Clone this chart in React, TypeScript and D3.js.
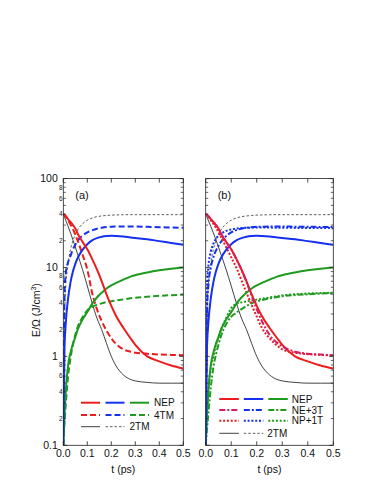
import React from 'react';
import * as d3 from 'd3';

// ---------- data ----------
const T = [0, 0.005, 0.01, 0.02, 0.03, 0.04, 0.05, 0.06, 0.08, 0.1, 0.12, 0.14, 0.16, 0.18, 0.2, 0.22, 0.25, 0.28, 0.3, 0.35, 0.4, 0.45, 0.5];

// NEP
const nepRed = [40, 39, 38, 35, 32.5, 30, 27.5, 24, 19.5, 16, 12.5, 9.5, 7.0, 5.0, 3.7, 2.85, 2.1, 1.6, 1.35, 1.0, 0.88, 0.79, 0.73];
const nepBlue = [0.1, 1.2, 2.3, 4.5, 6.8, 9, 11, 12.8, 15.8, 18.3, 20.2, 21.4, 22.2, 22.6, 22.7, 22.6, 22.3, 21.8, 21.5, 20.8, 19.8, 18.9, 18];
const nepGreen = [0.1, 0.22, 0.4, 0.8, 1.1, 1.38, 1.65, 2.0, 2.6, 3.15, 3.9, 4.6, 5.2, 5.8, 6.3, 6.7, 7.3, 7.9, 8.2, 8.8, 9.3, 9.7, 10];
// 4TM
const tm4Red = [40, 39, 37.5, 34, 30.5, 27, 23.5, 20, 14, 9.5, 5.2, 3.4, 2.5, 1.95, 1.6, 1.38, 1.2, 1.13, 1.1, 1.07, 1.05, 1.04, 1.03];
const tm4Blue = [0.1, 5, 8.5, 11.5, 13.5, 16, 18, 20, 22.8, 24.8, 26.2, 27.3, 28, 28.5, 28.8, 28.9, 29, 29, 28.9, 28.7, 28.4, 28.2, 28];
const tm4Green = [0.1, 0.18, 0.28, 0.6, 0.95, 1.35, 1.75, 2.15, 2.75, 3.3, 3.6, 3.8, 3.95, 4.08, 4.17, 4.25, 4.38, 4.5, 4.57, 4.7, 4.8, 4.88, 4.95];
// 2TM
const tm2Elec = [40, 37, 34, 29, 24.5, 20.5, 17, 14, 9.5, 6.2, 4.0, 2.7, 2.0, 1.4, 1.0, 0.78, 0.62, 0.55, 0.53, 0.51, 0.5, 0.5, 0.5];
const tm2Latt = [0.1, 3, 6, 11, 16, 20, 23.5, 26.5, 31, 34, 36, 37.3, 38, 38.5, 38.8, 39, 39.2, 39.3, 39.3, 39.3, 39.3, 39.3, 39.3];
// NE+3T
const ne3Red = [40, 39, 38, 35, 32.5, 30, 27.5, 24, 19.5, 16, 12.5, 9.5, 6.8, 4.8, 3.4, 2.5, 1.75, 1.42, 1.3, 1.13, 1.07, 1.05, 1.03];
const ne3Blue = [0.1, 3, 6, 10, 13, 15.5, 17.5, 19.5, 22.5, 24.8, 26.3, 27.3, 28, 28.4, 28.7, 28.8, 28.9, 28.9, 28.9, 28.8, 28.7, 28.6, 28.5];
const ne3Green = [0.1, 0.15, 0.22, 0.45, 0.75, 1.05, 1.35, 1.7, 2.3, 2.8, 3.1, 3.4, 3.7, 3.95, 4.15, 4.3, 4.5, 4.65, 4.75, 4.9, 5.0, 5.1, 5.15];
// NP+1T
const np1Red = [40, 39, 37.5, 34, 31, 28, 25, 22, 17, 13, 10, 7.2, 5.2, 3.8, 2.8, 2.1, 1.6, 1.32, 1.2, 1.1, 1.06, 1.04, 1.02];
const np1Blue = [0.1, 6, 10, 15, 18.5, 21, 22.8, 24, 25.8, 26.8, 27.4, 27.8, 28, 28.1, 28.1, 28.1, 28.1, 28, 28, 27.9, 27.8, 27.8, 27.7];
const np1Green = [0.1, 0.25, 0.4, 0.75, 1.0, 1.35, 1.65, 2.0, 2.7, 3.5, 3.9, 4.05, 4.15, 4.25, 4.35, 4.45, 4.6, 4.75, 4.85, 5.0, 5.1, 5.15, 5.2];

const X_TICKS = [0, 0.1, 0.2, 0.3, 0.4, 0.5];
const X_TICK_LABELS = ['0.0', '0.1', '0.2', '0.3', '0.4', '0.5'];
const Y_MAJOR = [0.1, 1, 10, 100];
const Y_MAJOR_LABELS = ['0.1', '1', '10', '100'];
const MINOR_LABELED = [2, 4, 6, 8];

// ---------- styles ----------
const RED = '#ee1c1c';
const PINK = '#d81b60';
const BLUE = '#1530ee';
const GREEN = '#1e9a1e';
const FONT = '"Liberation Sans", Arial, Helvetica, sans-serif';

const DASH = '6,3';
const DOT = '2,1.8';
const DASHDOT = '6,2,2,2';
const THIN_DASH = '2.5,2';

type Style = { color: string; dash?: string; width: number };
type Series = { values: number[] } & Style;

const sNEPr: Style = { color: RED, width: 2 };
const sNEPb: Style = { color: BLUE, width: 2 };
const sNEPg: Style = { color: GREEN, width: 2 };
const s4r: Style = { color: RED, width: 2, dash: DASH };
const s4b: Style = { color: BLUE, width: 2, dash: DASH };
const s4g: Style = { color: GREEN, width: 2, dash: DASH };
const s2e: Style = { color: '#111', width: 0.8 };
const s2l: Style = { color: '#333', width: 0.8, dash: THIN_DASH };
const s3r: Style = { color: PINK, width: 2, dash: DASHDOT };
const s3b: Style = { color: BLUE, width: 2, dash: DASHDOT };
const s3g: Style = { color: GREEN, width: 2, dash: DASHDOT };
const s1r: Style = { color: RED, width: 2, dash: DOT };
const s1b: Style = { color: BLUE, width: 2, dash: DOT };
const s1g: Style = { color: GREEN, width: 2, dash: DOT };

const seriesA: Series[] = [
  { values: tm2Latt, ...s2l },
  { values: tm2Elec, ...s2e },
  { values: tm4Green, ...s4g },
  { values: tm4Blue, ...s4b },
  { values: tm4Red, ...s4r },
  { values: nepGreen, ...sNEPg },
  { values: nepBlue, ...sNEPb },
  { values: nepRed, ...sNEPr },
];
const seriesB: Series[] = [
  { values: tm2Latt, ...s2l },
  { values: tm2Elec, ...s2e },
  { values: ne3Green, ...s3g },
  { values: np1Green, ...s1g },
  { values: ne3Blue, ...s3b },
  { values: np1Blue, ...s1b },
  { values: np1Red, ...s1r },
  { values: nepGreen, ...sNEPg },
  { values: nepBlue, ...sNEPb },
  { values: nepRed, ...sNEPr },
  { values: ne3Red, ...s3r },
];

type LegendRow = { y: number; segs: Style[]; text: string };
type Legend = { x0: number; segLen: number; gap: number; textGap: number; rows: LegendRow[] };

const legendA: Legend = {
  x0: 81, segLen: 19, gap: 5.5, textGap: 5,
  rows: [
    { y: 402.7, segs: [sNEPr, sNEPb, sNEPg], text: 'NEP' },
    { y: 415, segs: [s4r, s4b, s4g], text: '4TM' },
    { y: 426.7, segs: [s2e, s2l], text: '2TM' },
  ],
};
const legendB: Legend = {
  x0: 219.3, segLen: 19.5, gap: 5, textGap: 4,
  rows: [
    { y: 399, segs: [sNEPr, sNEPb, sNEPg], text: 'NEP' },
    { y: 410, segs: [s3r, s3b, s3g], text: 'NE+3T' },
    { y: 420.7, segs: [s1r, s1b, s1g], text: 'NP+1T' },
    { y: 433.3, segs: [s2e, s2l], text: '2TM' },
  ],
};

type PanelProps = {
  id: string; left: number; right: number; top: number; bottom: number;
  series: Series[]; label: string; yLabels: boolean; legend: Legend;
};

function Panel({ id, left, right, top, bottom, series, label, yLabels, legend }: PanelProps) {
  const x = d3.scaleLinear().domain([0, 0.5]).range([left, right]);
  const y = d3.scaleLog().domain([0.1, 100]).range([bottom, top]);
  const line = d3.line<number>()
    .x((_, i) => x(T[i]))
    .y((v) => y(v))
    .curve(d3.curveMonotoneX);

  const minors: number[] = [];
  [0.1, 1, 10].forEach((d) => { for (let k = 2; k <= 9; k++) minors.push(d * k); });

  const major = 4;
  const minor = 2.5;
  const axisColor = '#222';

  return (
    <g>
      <defs>
        <clipPath id={`clip-${id}`}>
          <rect x={left} y={top} width={right - left} height={bottom - top} />
        </clipPath>
      </defs>
      <g clipPath={`url(#clip-${id})`} fill="none">
        {series.map((s, i) => (
          <path key={i} d={line(s.values) || ''} stroke={s.color} strokeWidth={s.width}
            strokeDasharray={s.dash} strokeLinejoin="round" />
        ))}
      </g>
      {/* frame */}
      <rect x={left} y={top} width={right - left} height={bottom - top} fill="none" stroke={axisColor} strokeWidth={0.8} />
      {/* x ticks */}
      {X_TICKS.map((t, i) => (
        <g key={'xt' + i}>
          <line x1={x(t)} x2={x(t)} y1={bottom} y2={bottom - major} stroke={axisColor} strokeWidth={0.8} />
          <line x1={x(t)} x2={x(t)} y1={top} y2={top + major} stroke={axisColor} strokeWidth={0.8} />
          <text x={x(t)} y={bottom + 11.8} fontSize={10.5} textAnchor="middle" fontFamily={FONT} fill="#111">{X_TICK_LABELS[i]}</text>
        </g>
      ))}
      <text x={(left + right) / 2} y={bottom + 28} fontSize={10.5} textAnchor="middle" fontFamily={FONT} fill="#111">t (ps)</text>
      {/* y ticks */}
      {Y_MAJOR.map((v, i) => (
        <g key={'ym' + i}>
          <line x1={left} x2={left + major} y1={y(v)} y2={y(v)} stroke={axisColor} strokeWidth={0.8} />
          <line x1={right} x2={right - major} y1={y(v)} y2={y(v)} stroke={axisColor} strokeWidth={0.8} />
          {yLabels && (
            <text x={left - 5.5} y={y(v) + 3.6} fontSize={10.5} textAnchor="end" fontFamily={FONT} fill="#111">{Y_MAJOR_LABELS[i]}</text>
          )}
        </g>
      ))}
      {minors.map((v, i) => {
        const k = Math.round(v / Math.pow(10, Math.floor(Math.log10(v) + 1e-9)));
        return (
          <g key={'yn' + i}>
            <line x1={left} x2={left + minor} y1={y(v)} y2={y(v)} stroke={axisColor} strokeWidth={0.7} />
            <line x1={right} x2={right - minor} y1={y(v)} y2={y(v)} stroke={axisColor} strokeWidth={0.7} />
            {yLabels && MINOR_LABELED.includes(k) && (
              <text x={left - 0.8} y={y(v) + 2.3} fontSize={6.5} textAnchor="end" fontFamily={FONT} fill="#222">{k}</text>
            )}
          </g>
        );
      })}
      {/* panel label */}
      <text x={left + 12} y={top + 20} fontSize={11} fontFamily={FONT} fill="#111">{label}</text>
      {/* legend */}
      {legend.rows.map((r, ri) => {
        const endX = legend.x0 + r.segs.length * legend.segLen + (r.segs.length - 1) * legend.gap;
        return (
          <g key={'lg' + ri}>
            {r.segs.map((s, si) => {
              const sx = legend.x0 + si * (legend.segLen + legend.gap);
              return (
                <line key={si} x1={sx} x2={sx + legend.segLen} y1={r.y} y2={r.y}
                  stroke={s.color} strokeWidth={s.width} strokeDasharray={s.dash} />
              );
            })}
            <text x={endX + legend.textGap} y={r.y + 3.6} fontSize={10} fontFamily={FONT} fill="#111">{r.text}</text>
          </g>
        );
      })}
    </g>
  );
}

export default function App() {
  return (
    <svg width={383} height={495} style={{ position: 'absolute', left: 0, top: 0, background: '#fff' }}>
      <rect x={0} y={0} width={383} height={495} fill="#fff" />
      <Panel id="a" left={63.3} right={183.3} top={178.6} bottom={445.3} series={seriesA}
        label="(a)" yLabels={true} legend={legendA} />
      <Panel id="b" left={205.7} right={333.3} top={178.6} bottom={445.3} series={seriesB}
        label="(b)" yLabels={false} legend={legendB} />
      <text transform="translate(40,310) rotate(-90)" fontSize={10.5} textAnchor="middle" fontFamily={FONT} fill="#111">
        E/Ω (J/cm<tspan dy={-4} fontSize={7}>3</tspan><tspan dy={4}>)</tspan>
      </text>
    </svg>
  );
}
